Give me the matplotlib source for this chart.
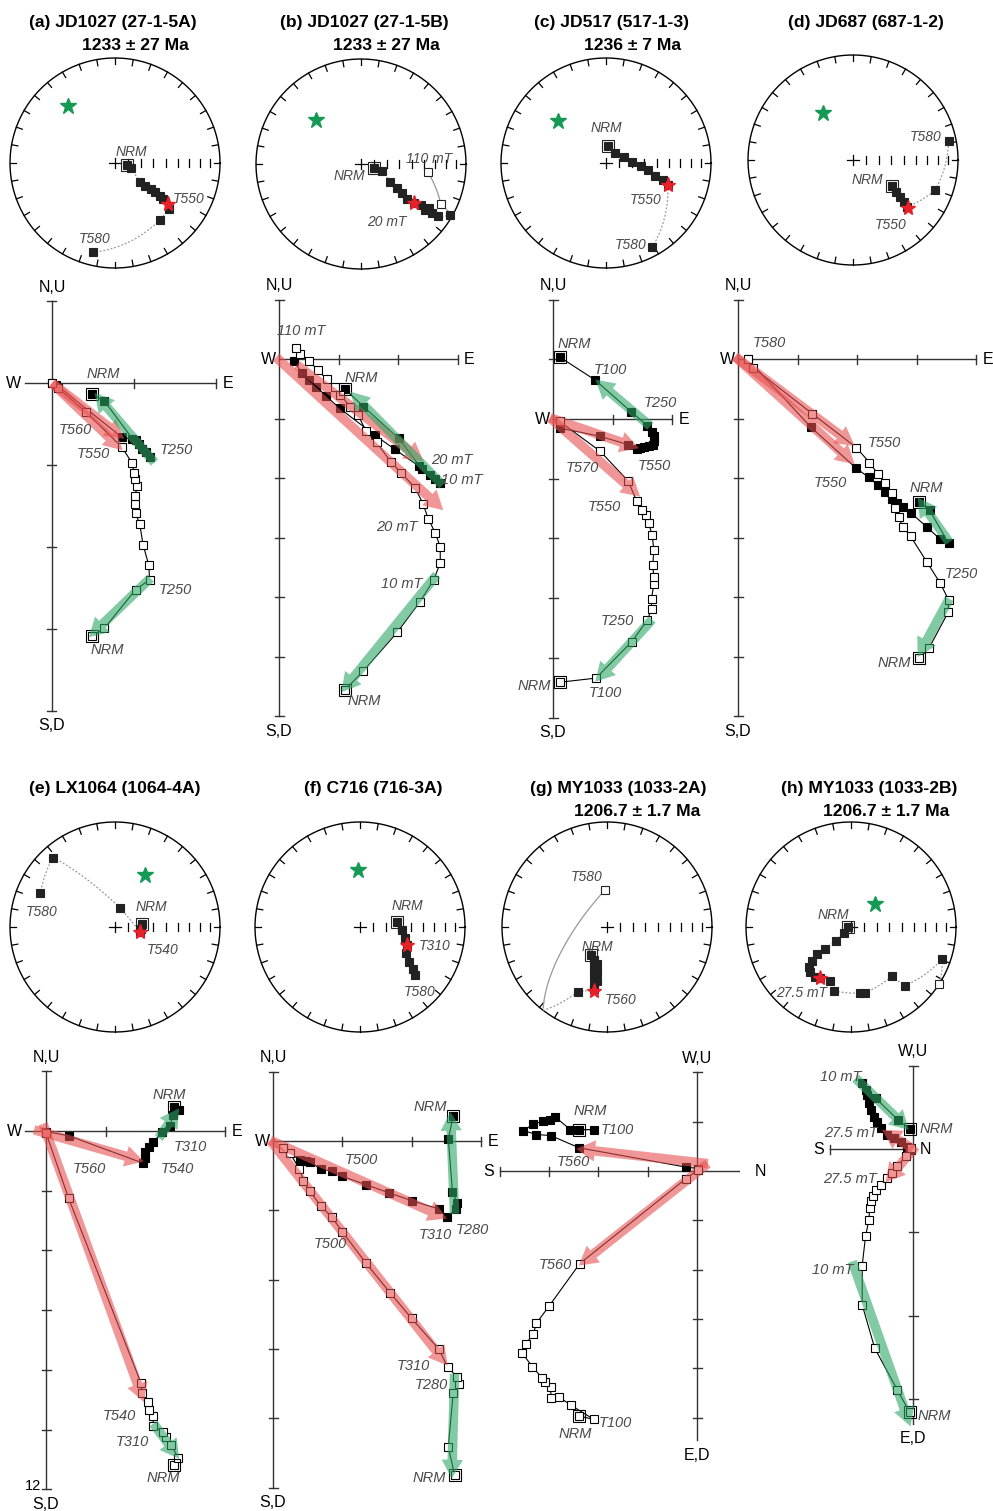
import numpy as np
import matplotlib.pyplot as plt
from matplotlib.patches import FancyArrowPatch, ArrowStyle

plt.rcParams['font.family'] = ['Liberation Sans', 'DejaVu Sans']

# ---------------- data ----------------
TITLES = [("(a) JD1027 (27-1-5A)", "1233 ± 27 Ma"),
          ("(b) JD1027 (27-1-5B)", "1233 ± 27 Ma"),
          ("(c) JD517 (517-1-3)", "1236 ± 7 Ma"),
          ("(d) JD687 (687-1-2)", ""),
          ("(e) LX1064 (1064-4A)", ""),
          ("(f) C716 (716-3A)", ""),
          ("(g) MY1033 (1033-2A)", "1206.7 ± 1.7 Ma"),
          ("(h) MY1033 (1033-2B)", "1206.7 ± 1.7 Ma")]

# stereonet points: x east, y north on unit equal-area net, 1 = lower hemisphere
A_NET = [(0.11, -0.02, 1), (0.15, -0.05, 1), (0.24, -0.18, 1), (0.29, -0.22, 1), (0.34, -0.25, 1),
         (0.38, -0.28, 1), (0.43, -0.31, 1), (0.46, -0.34, 1), (0.51, -0.44, 1), (0.43, -0.54, 1),
         (-0.21, -0.85, 1)]
B_NET = [(0.12, -0.04, 1), (0.20, -0.07, 1), (0.28, -0.17, 1), (0.34, -0.23, 1), (0.39, -0.28, 1),
         (0.44, -0.33, 1), (0.50, -0.37, 1), (0.57, -0.39, 1), (0.61, -0.44, 1), (0.65, -0.42, 1),
         (0.68, -0.47, 1), (0.73, -0.50, 1), (0.85, -0.49, 1), (0.76, -0.38, 0), (0.64, -0.08, 0)]
C_NET = [(0.02, 0.16, 1), (0.09, 0.10, 1), (0.17, 0.06, 1), (0.25, 0.01, 1), (0.33, -0.03, 1),
         (0.40, -0.07, 1), (0.47, -0.12, 1), (0.54, -0.16, 1), (0.59, -0.21, 1), (0.44, -0.80, 1)]
D_NET = [(0.37, -0.25, 1), (0.41, -0.30, 1), (0.45, -0.35, 1), (0.49, -0.40, 1), (0.51, -0.45, 1),
         (0.78, -0.29, 1), (0.91, 0.18, 1)]
E_NET = [(0.26, 0.03, 1), (0.25, -0.02, 1), (0.24, -0.05, 1), (0.05, 0.18, 1), (-0.59, 0.66, 1),
         (-0.71, 0.32, 1)]
F_NET = [(0.35, 0.05, 1), (0.40, -0.03, 1), (0.43, -0.10, 1), (0.45, -0.17, 1), (0.44, -0.25, 1),
         (0.47, -0.33, 1), (0.50, -0.40, 1), (0.52, -0.46, 1)]
G_NET = [(-0.15, -0.27, 1), (-0.12, -0.31, 1), (-0.10, -0.35, 1), (-0.12, -0.39, 1), (-0.10, -0.43, 1),
         (-0.12, -0.47, 1), (-0.10, -0.51, 1), (-0.12, -0.55, 1), (-0.12, -0.59, 1), (-0.28, -0.62, 1),
         (-0.02, 0.35, 0)]
H_NET = [(-0.03, 0.00, 1), (-0.07, -0.06, 1), (-0.14, -0.13, 1), (-0.25, -0.21, 1), (-0.32, -0.26, 1),
         (-0.37, -0.32, 1), (-0.40, -0.38, 1), (-0.39, -0.43, 1), (-0.34, -0.48, 1), (-0.30, -0.49, 1),
         (-0.20, -0.51, 1), (-0.16, -0.61, 1), (0.09, -0.63, 1), (0.13, -0.63, 1), (0.39, -0.47, 1),
         (0.51, -0.56, 1), (0.87, -0.30, 1), (0.84, -0.54, 0)]
RED_STARS = [(0.50, -0.39), (0.50, -0.37), (0.59, -0.21), (0.52, -0.46),
             (0.24, -0.05), (0.45, -0.17), (-0.12, -0.61), (-0.30, -0.49)]
GREEN_STARS = [(-0.45, 0.54), (-0.43, 0.42), (-0.46, 0.40), (-0.29, 0.45),
               (0.29, 0.50), (-0.02, 0.54), None, (0.23, 0.22)]
NET_LABELS = [[("NRM", 0.16, 0.10), ("T550", 0.70, -0.34), ("T580", -0.19, -0.72)],
              [("110 mT", 0.65, 0.05), ("NRM", -0.11, -0.11), ("20 mT", 0.25, -0.55)],
              [("NRM", 0.00, 0.33), ("T550", 0.38, -0.35), ("T580", 0.23, -0.78)],
              [("T580", 0.69, 0.22), ("NRM", 0.14, -0.19), ("T550", 0.36, -0.62)],
              [("T580", -0.70, 0.14), ("NRM", 0.35, 0.19), ("T540", 0.45, -0.22)],
              [("NRM", 0.45, 0.20), ("T310", 0.71, -0.18), ("T580", 0.57, -0.62)],
              [("T580", -0.19, 0.48), ("NRM", -0.09, -0.19), ("T560", 0.13, -0.70)],
              [("NRM", -0.17, 0.11), ("27.5 mT", -0.47, -0.63)]]

# orthogonal plots, in tick units: horizontal projection (filled) and vertical projection (open)
A_HOR = [(0.49, -0.14), (0.64, -0.22), (0.98, -0.68), (1.06, -0.74), (1.15, -0.84), (1.19, -0.90),
         (1.10, -0.80), (1.02, -0.70), (0.85, -0.66), (0.05, -0.02), (0.00, 0.00)]
A_VER = [(0.49, -3.09), (0.64, -2.99), (1.02, -2.52), (1.19, -2.40), (1.18, -2.22), (1.11, -1.97),
         (1.07, -1.72), (1.02, -1.59), (1.01, -1.48), (1.01, -1.38), (1.04, -1.26), (1.01, -1.17),
         (1.00, -1.10), (0.98, -0.98), (0.85, -0.78), (0.41, -0.35), (0.07, -0.06), (0.00, 0.00)]
B_HOR = [(1.11, -0.51), (1.42, -0.80), (2.01, -1.33), (2.40, -1.85), (2.62, -2.02), (2.71, -2.09),
         (2.54, -1.95), (2.35, -1.80), (1.95, -1.52), (1.61, -1.28), (1.02, -0.83), (0.79, -0.62),
         (0.63, -0.47), (0.50, -0.36), (0.38, -0.24), (0.26, -0.04)]
B_VER = [(1.11, -5.56), (1.42, -5.24), (1.99, -4.59), (2.37, -4.08), (2.60, -3.71), (2.71, -3.43),
         (2.71, -3.16), (2.63, -2.93), (2.51, -2.69), (2.42, -2.43), (2.29, -2.17), (2.05, -1.91),
         (1.88, -1.73), (1.64, -1.40), (1.46, -1.21), (1.33, -0.94), (1.20, -0.81), (1.03, -0.60),
         (0.94, -0.47), (0.80, -0.34), (0.65, -0.18), (0.50, -0.03), (0.36, 0.09), (0.29, 0.19)]
C_HOR = [(0.11, 1.04), (0.71, 0.65), (1.31, 0.12), (1.58, -0.11), (1.66, -0.21), (1.69, -0.29),
         (1.70, -0.37), (1.68, -0.43), (1.60, -0.46), (1.52, -0.47), (1.45, -0.49), (1.40, -0.50),
         (1.26, -0.43), (0.79, -0.29), (0.11, -0.15)]
C_VER = [(0.11, -4.41), (0.72, -4.34), (1.32, -3.73), (1.58, -3.37), (1.65, -3.18), (1.65, -3.01),
         (1.69, -2.76), (1.69, -2.65), (1.67, -2.45), (1.69, -2.20), (1.66, -1.94), (1.60, -1.74),
         (1.56, -1.61), (1.49, -1.52), (1.40, -1.37), (1.26, -1.04), (0.79, -0.54), (0.11, -0.04)]
D_HOR = [(3.05, -2.40), (3.22, -2.54), (3.54, -3.10), (3.40, -3.03), (3.18, -2.83), (2.90, -2.58),
         (2.77, -2.49), (2.67, -2.42), (2.58, -2.36), (2.47, -2.23), (2.35, -2.12), (2.20, -1.99),
         (1.99, -1.84), (1.23, -1.15), (0.16, 0.00)]
D_VER = [(3.05, -5.03), (3.21, -4.86), (3.53, -4.26), (3.54, -4.05), (3.40, -3.77), (3.18, -3.42),
         (2.90, -2.98), (2.77, -2.82), (2.70, -2.66), (2.64, -2.50), (2.58, -2.25), (2.47, -2.08),
         (2.35, -1.93), (2.21, -1.74), (1.99, -1.49), (1.25, -0.92), (0.26, -0.15), (0.16, 0.00)]
E_HOR = [(2.15, 0.41), (2.22, 0.35), (2.13, 0.26), (2.07, 0.08), (1.95, -0.02), (1.80, -0.18),
         (1.72, -0.26), (1.65, -0.35), (1.66, -0.46), (1.63, -0.54), (0.38, -0.08), (0.00, -0.01)]
E_VER = [(2.14, -5.60), (2.21, -5.47), (2.10, -5.26), (2.01, -5.13), (1.96, -5.04), (1.80, -4.94),
         (1.79, -4.78), (1.72, -4.68), (1.71, -4.54), (1.61, -4.39), (1.59, -4.22), (0.38, -1.13),
         (0.00, -0.03)]
F_HOR = [(2.60, 0.36), (2.53, 0.03), (2.59, -0.74), (2.66, -0.89), (2.64, -0.98), (2.51, -1.10),
         (2.39, -0.98), (2.00, -0.86), (1.68, -0.75), (1.34, -0.63), (1.00, -0.51), (0.85, -0.43),
         (0.69, -0.41), (0.54, -0.30), (0.47, -0.29), (0.39, -0.28), (0.15, -0.10)]
F_VER = [(2.62, -4.82), (2.53, -4.41), (2.60, -3.64), (2.68, -3.50), (2.65, -3.40), (2.52, -3.26),
         (2.39, -3.00), (2.00, -2.56), (1.69, -2.19), (1.34, -1.76), (1.00, -1.31), (0.85, -1.10),
         (0.69, -0.94), (0.53, -0.72), (0.44, -0.57), (0.38, -0.40), (0.24, -0.17), (0.15, -0.10)]
G_HOR = [(-2.39, 0.84), (-2.09, 0.84), (-2.57, 0.84), (-2.88, 1.10), (-2.99, 1.03), (-3.13, 1.01),
         (-3.32, 0.95), (-3.52, 0.82), (-3.26, 0.74), (-2.97, 0.72), (-2.39, 0.47), (-0.23, 0.08),
         (0.02, 0.05)]
G_VER = [(-2.39, -4.97), (-2.09, -5.04), (-2.56, -4.75), (-2.80, -4.58), (-2.96, -4.60), (-2.97, -4.39),
         (-3.09, -4.29), (-3.14, -4.20), (-3.34, -3.97), (-3.54, -3.70), (-3.47, -3.50), (-3.32, -3.31),
         (-3.26, -3.09), (-3.00, -2.74), (-2.38, -1.88), (-0.23, -0.16), (0.02, 0.02)]
H_HOR = [(-0.04, 0.24), (-0.18, 0.35), (-0.45, 0.61), (-0.57, 0.71), (-0.61, 0.79), (-0.55, 0.65),
         (-0.53, 0.55), (-0.50, 0.47), (-0.47, 0.39), (-0.43, 0.33), (-0.39, 0.25), (-0.31, 0.17),
         (-0.23, 0.13), (-0.15, 0.09), (-0.07, 0.03), (-0.03, -0.01)]
H_VER = [(-0.04, -3.16), (-0.19, -2.89), (-0.46, -2.39), (-0.61, -1.87), (-0.61, -1.40), (-0.57, -1.05),
         (-0.53, -0.85), (-0.52, -0.71), (-0.51, -0.63), (-0.48, -0.57), (-0.44, -0.49), (-0.39, -0.43),
         (-0.31, -0.35), (-0.25, -0.29), (-0.19, -0.21), (-0.09, -0.09), (-0.03, 0.01)]
HOR = [A_HOR, B_HOR, C_HOR, D_HOR, E_HOR, F_HOR, G_HOR, H_HOR]
VER = [A_VER, B_VER, C_VER, D_VER, E_VER, F_VER, G_VER, H_VER]

# fitted components (start -> end), red = high, green = low
RED_FITS = [[(0, 0, 0.88, -0.68), (0, 0, 0.86, -0.82)],
            [(-0.05, 0.03, 2.76, -2.54), (0.3, -0.1, 2.43, -1.72)],
            [(-0.05, 0.02, 1.44, -0.49), (-0.05, 0.02, 1.46, -1.30)],
            [(-0.05, 0.04, 1.96, -1.46), (-0.05, 0.04, 1.96, -1.77)],
            [(-0.20, 0.02, 1.64, -0.51), (-0.05, 0.12, 1.64, -4.54)],
            [(-0.04, 0.01, 2.51, -1.12), (-0.04, 0.01, 2.52, -3.24)],
            [(0.22, 0.15, -2.45, 0.45), (0.22, 0.15, -2.40, -1.92)],
            [(0.0, 0.0, -0.37, 0.23), (0.03, 0.03, -0.33, -0.40)]]
GREEN_FITS = [[(1.25, -0.97, 0.52, -0.12), (1.20, -2.38, 0.45, -3.10)],
              [(2.75, -2.12, 1.20, -0.55), (2.65, -3.63, 1.05, -5.60)],
              [(1.63, -0.12, 0.71, 0.66), (1.66, -3.36, 0.71, -4.40)],
              [(3.55, -3.08, 3.02, -2.33), (3.55, -4.03, 3.02, -5.01)],
              [(1.89, -0.12, 2.23, 0.38), (1.80, -4.90, 2.23, -5.49)],
              [(2.62, -1.05, 2.56, 0.42), (2.62, -3.36, 2.58, -4.87)],
              [],
              [(-0.69, 0.85, -0.05, 0.23), (-0.73, -1.35, -0.03, -3.33)]]
ZIJ_LABELS = [[("NRM", 0.63, 0.11), ("T560", 0.28, -0.57), ("T550", 0.50, -0.87), ("T250", 1.52, -0.82),
               ("T250", 1.50, -2.53), ("NRM", 0.67, -3.25)],
              [("110 mT", 0.38, 0.47), ("NRM", 1.39, -0.32), ("20 mT", 2.90, -1.70), ("10 mT", 3.07, -2.03),
               ("20 mT", 1.98, -2.82), ("10 mT", 2.06, -3.78), ("NRM", 1.44, -5.75)],
              [("NRM", 0.35, 1.26), ("T100", 0.96, 0.82), ("T250", 1.79, 0.26), ("T570", 0.49, -0.82),
               ("T550", 1.69, -0.79), ("T550", 0.86, -1.48), ("T250", 1.08, -3.39), ("NRM", -0.32, -4.48),
               ("T100", 0.88, -4.59)],
              [("T580", 0.53, 0.27), ("T550", 2.46, -1.41), ("T550", 1.55, -2.08), ("NRM", 3.16, -2.16),
               ("T250", 3.75, -3.61), ("NRM", 2.63, -5.11)],
              [("NRM", 2.06, 0.60), ("T310", 2.42, -0.26), ("T560", 0.72, -0.63), ("T540", 2.20, -0.63),
               ("T540", 1.22, -4.78), ("T310", 1.44, -5.21), ("NRM", 1.97, -5.82)],
              [("NRM", 2.27, 0.49), ("T500", 1.28, -0.27), ("T310", 2.34, -1.36), ("T280", 2.88, -1.29),
               ("T500", 0.83, -1.48), ("T310", 2.03, -3.24), ("T280", 2.29, -3.52), ("NRM", 2.25, -4.86)],
              [("NRM", -2.16, 1.22), ("T100", -1.62, 0.84), ("T560", -2.51, 0.18), ("T560", -2.87, -1.90),
               ("T100", -1.65, -5.12), ("NRM", -2.47, -5.34)],
              [("10 mT", -0.87, 0.86), ("NRM", 0.28, 0.24), ("27.5 mT", -0.75, 0.19), ("27.5 mT", -0.76, -0.36),
               ("10 mT", -0.96, -1.45), ("NRM", 0.25, -3.20)]]

# ---------------- layout (pixels) ----------------
W, H = 993, 1511
fig = plt.figure(figsize=(W / 100, H / 100), dpi=100)

NET_C = [(115, 163), (361, 164), (606, 163), (853, 160), (115, 927), (360, 927), (607, 927), (851, 927)]
NET_R = 105
TITLE_POS = [(113, 135), (364, 386), (612, 633), (866, 0), (115, 0), (373, 0), (618, 637), (869, 886)]
COLS = [(0, 248), (220, 495), (470, 740), (700, 993)]
# origin x, origin y, px per unit, x-axis range, y-axis range, x ticks, y ticks, axis names
ZIJ = [dict(o=(52, 383), s=82, xr=(-0.33, 2), yr=(-4, 1), xt=[1, 2], yt=[-4, -3, -2, -1, 1], n=("N,U", "S,D", "W", "E")),
       dict(o=(279, 359), s=59.5, xr=(0, 3), yr=(-6, 1), xt=[1, 2, 3], yt=[-6, -5, -4, -3, -2, -1, 1], n=("N,U", "S,D", "W", "E")),
       dict(o=(553, 419), s=59.7, xr=(0, 2), yr=(-5, 2), xt=[1, 2], yt=[-5, -4, -3, -2, -1, 1, 2], n=("N,U", "S,D", "W", "E")),
       dict(o=(738, 359), s=59.5, xr=(0, 4), yr=(-6, 1), xt=[1, 2, 3, 4], yt=[-6, -5, -4, -3, -2, -1, 1], n=("N,U", "S,D", "W", "E")),
       dict(o=(46, 1131), s=59.7, xr=(-0.35, 3), yr=(-6, 1), xt=[1, 2, 3], yt=[-6, -5, -4, -3, -2, -1, 1], n=("N,U", "S,D", "W", "E")),
       dict(o=(273, 1141), s=69.3, xr=(0, 3), yr=(-5, 1), xt=[1, 2, 3], yt=[-5, -4, -3, -2, -1, 1], n=("N,U", "S,D", "W", "E")),
       dict(o=(697, 1171), s=49.3, xr=(-4, 1.05), yr=(-5.46, 2), xt=[-4, -3, -2, -1], yt=[-5, -4, -3, -2, -1, 1, 2], n=("W,U", "E,D", "S", "N")),
       dict(o=(913, 1149), s=83.3, xr=(-1, 0), yr=(-3.3, 1), xt=[-1], yt=[-3, -2, -1, 1], n=("W,U", "E,D", "S", "N"))]

LAB_COL = '#4a4a4a'
RED = '#e85050'
GREEN = '#2ea866'


def px_axes(x0, y0, x1, y1):
    return fig.add_axes([x0 / W, 1 - y1 / H, (x1 - x0) / W, (y1 - y0) / H])


def to_vec(x, y, down):
    r = min(np.hypot(x, y), 1.0)
    si = 1 - r * r
    ci = np.sqrt(max(1 - si * si, 0))
    if r == 0:
        return np.array([0, 0, 1.0 if down else -1.0])
    return np.array([ci * x / r, ci * y / r, si if down else -si])


def to_net(v):
    v = v / np.linalg.norm(v)
    h = np.hypot(v[0], v[1])
    r = np.sqrt(max(1 - abs(v[2]), 0))
    if h == 0:
        return 0.0, 0.0, v[2] >= 0
    return r * v[0] / h, r * v[1] / h, v[2] >= 0


def draw_net(i, pts):
    cx, cy = NET_C[i]
    pad = 8
    ax = px_axes(cx - NET_R - pad, cy - NET_R - pad, cx + NET_R + pad, cy + NET_R + pad)
    lim = (NET_R + pad) / NET_R
    ax.set_xlim(-lim, lim)
    ax.set_ylim(-lim, lim)
    ax.axis('off')
    th = np.linspace(0, 2 * np.pi, 400)
    ax.plot(np.cos(th), np.sin(th), color='k', lw=1)
    for a in np.radians(np.arange(0, 360, 10)):
        ax.plot([0.94 * np.cos(a), np.cos(a)], [0.94 * np.sin(a), np.sin(a)], color='k', lw=0.9)
    ax.plot([-0.06, 0.06], [0, 0], color='k', lw=0.9)
    ax.plot([0, 0], [-0.05, 0.05], color='k', lw=0.9)
    for inc in range(10, 90, 10):
        rr = np.sqrt(1 - np.sin(np.radians(inc)))
        ax.plot([rr, rr], [-0.035, 0.035], color='k', lw=0.9)
    # connecting great-circle paths
    for p, q in zip(pts[:-1], pts[1:]):
        v0, v1 = to_vec(*p), to_vec(*q)
        om = np.arccos(np.clip(np.dot(v0, v1), -1, 1))
        ts = np.linspace(0, 1, 60)
        if om < 1e-6:
            continue
        vs = [(np.sin((1 - t) * om) * v0 + np.sin(t * om) * v1) / np.sin(om) for t in ts]
        xyd = [to_net(v) for v in vs]
        seg = [xyd[0]]
        for k in range(1, len(xyd)):
            if xyd[k][2] != seg[-1][2]:
                sx, sy, sd = zip(*seg)
                ax.plot(sx, sy, color='#999999', lw=0.9, ls=(0, (1.5, 1.5)) if sd[0] else '-')
                seg = [xyd[k]]
            else:
                seg.append(xyd[k])
        sx, sy, sd = zip(*seg)
        ax.plot(sx, sy, color='#999999', lw=0.9, ls=(0, (1.5, 1.5)) if sd[0] else '-')
    for k, (x, y, d) in enumerate(pts):
        ax.plot(x, y, 's', ms=5.2, mfc='#222222' if d else 'white', mec='#222222', mew=0.8, zorder=4)
    ax.plot(pts[0][0], pts[0][1], 's', ms=8.5, mfc='none', mec='#222222', mew=0.8, zorder=4)
    rs = RED_STARS[i]
    ax.plot(rs[0], rs[1], '*', ms=11, color='#e8202a', zorder=6)
    gs = GREEN_STARS[i]
    if gs is not None:
        ax.plot(gs[0], gs[1], '*', ms=12, color='#159a55', zorder=6)
    for t, x, y in NET_LABELS[i]:
        ax.text(x, y, t, fontsize=10, style='italic', color=LAB_COL, ha='center', va='center', zorder=7)


def draw_zij(i):
    g = ZIJ[i]
    ox, oy = g['o']
    s = g['s']
    x0, x1 = COLS[i % 4]
    y0, y1 = (268, 750) if i < 4 else (1035, 1511)
    ax = px_axes(x0, y0, x1, y1)
    ax.set_xlim((x0 - ox) / s, (x1 - ox) / s)
    ax.set_ylim((oy - y1) / s, (oy - y0) / s)
    ax.axis('off')
    xa, xb = g['xr']
    ya, yb = g['yr']
    ac = '#333333'
    ax.plot([xa, xb], [0, 0], color=ac, lw=1)
    ax.plot([0, 0], [ya, yb], color=ac, lw=1)
    t = 4.5 / s
    for xt in g['xt']:
        ax.plot([xt, xt], [-t, t], color=ac, lw=1)
    for yt in g['yt']:
        ax.plot([-t, t], [yt, yt], color=ac, lw=1)
    top, bot, left, right = g['n']
    fs = 11.5
    ax.text(0, yb + 14 / s, top, fontsize=fs, ha='center', va='center')
    ax.text(0, ya - 15 / s, bot, fontsize=fs, ha='center', va='center')
    ax.text(xa - 11 / s, 0, left, fontsize=fs, ha='center', va='center')
    ax.text(xb + 12 / s, 0, right, fontsize=fs, ha='center', va='center')
    if i == 4:
        ax.text(-13 / s, ya + 3 / s, "12", fontsize=10.5, ha='center', va='center')

    hx, hy = zip(*HOR[i])
    vx, vy = zip(*VER[i])
    ax.plot(hx, hy, color='k', lw=0.8, zorder=2)
    ax.plot(vx, vy, color='k', lw=0.8, zorder=2)
    ax.plot(hx, hy, 's', ms=5.5, mfc='k', mec='k', mew=0.8, zorder=3)
    ax.plot(vx, vy, 's', ms=5.5, mfc='white', mec='k', mew=0.8, zorder=3)
    ax.plot(hx[0], hy[0], 's', ms=9, mfc='none', mec='k', mew=0.8, zorder=3)
    ax.plot(vx[0], vy[0], 's', ms=9, mfc='none', mec='k', mew=0.8, zorder=3)

    style = ArrowStyle.Simple(head_length=0.75, head_width=0.85, tail_width=0.38)
    for fits, col in ((RED_FITS[i], RED), (GREEN_FITS[i], GREEN)):
        for (a0, b0, a1, b1) in fits:
            ar = FancyArrowPatch((a0, b0), (a1, b1), arrowstyle=style, mutation_scale=18,
                                 color=col, alpha=0.6, lw=0, shrinkA=0, shrinkB=0, zorder=5)
            ax.add_patch(ar)
    for txt, x, y in ZIJ_LABELS[i]:
        ax.text(x, y, txt, fontsize=10.5, style='italic', color=LAB_COL, ha='center', va='center', zorder=7)


NETS = [A_NET, B_NET, C_NET, D_NET, E_NET, F_NET, G_NET, H_NET]
for i in range(8):
    draw_net(i, NETS[i])
    draw_zij(i)
    l1, l2 = TITLES[i]
    c1, c2 = TITLE_POS[i]
    ty = 23 if i < 4 else 789
    fig.text(c1 / W, 1 - ty / H, l1, fontsize=12.6, fontweight='bold', ha='center', va='center')
    if l2:
        fig.text(c2 / W, 1 - (ty + 22) / H, l2, fontsize=12.6, fontweight='bold', ha='center', va='center')

fig.savefig('out.png', dpi=100, facecolor='white')
